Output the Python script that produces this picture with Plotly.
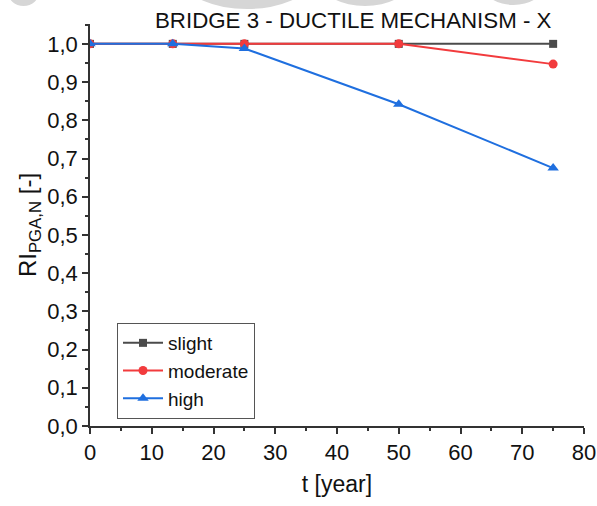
import plotly.graph_objects as go

# Exposure time [year]
t_slight = [0, 13.4, 25, 50, 75]
t_moderate = [0, 13.4, 25, 50, 75]
t_high = [0, 13.4, 25, 50, 75]

# Robustness index RI_PGA,N per damage state
ri_slight = [1.0, 1.0, 1.0, 1.0, 1.0]
ri_moderate = [1.0, 1.0, 1.0, 1.0, 0.947]
ri_high = [1.0, 1.0, 0.988, 0.842, 0.675]

y_ticks = [0.0, 0.1, 0.2, 0.3, 0.4, 0.5, 0.6, 0.7, 0.8, 0.9, 1.0]
x_ticks = [0, 10, 20, 30, 40, 50, 60, 70, 80]

W, H = 597, 506
L, R, T, B = 90, 13, 24, 80
PW, PH = W - L - R, H - T - B

FONT = "Liberation Sans, Arial, sans-serif"
GREY, RED, BLUE = "#4b4b4b", "#f23b3d", "#1f6fdf"


def px(x):
    return (x - L) / PW


def py(y):
    return (H - B - y) / PH


fig = go.Figure()
fig.add_trace(go.Scatter(
    x=t_slight, y=ri_slight, name="slight", mode="lines+markers",
    line=dict(color=GREY, width=2),
    marker=dict(symbol="square", size=8, color=GREY)))
fig.add_trace(go.Scatter(
    x=t_moderate, y=ri_moderate, name="moderate", mode="lines+markers",
    line=dict(color=RED, width=2),
    marker=dict(symbol="circle", size=9, color=RED)))
fig.add_trace(go.Scatter(
    x=t_high, y=ri_high, name="high", mode="lines+markers",
    line=dict(color=BLUE, width=2),
    marker=dict(symbol="triangle-up", size=10, color=BLUE)))

# light grey rounded shapes along the top edge
blobs = [(8, 39, -22, 6), (186, 308, -45, 9), (322, 408, -40, 6), (484, 543, -32, 5)]
shapes = []
for x0, x1, y0, y1 in blobs:
    shapes.append(dict(type="circle", xref="paper", yref="paper",
                       x0=px(x0), x1=px(x1), y0=py(y1), y1=py(y0),
                       fillcolor="#d6d6d6", line=dict(width=0), layer="below"))

fig.update_layout(
    width=W, height=H,
    margin=dict(l=L, r=R, t=T, b=B, autoexpand=False),
    paper_bgcolor="white", plot_bgcolor="white",
    separators=",.",
    font=dict(family=FONT, size=21, color="#111"),
    showlegend=True,
    legend=dict(x=px(117), y=py(323), xanchor="left", yanchor="top",
                bordercolor="#555", borderwidth=1, bgcolor="white",
                font=dict(size=19), tracegroupgap=0,
                itemwidth=40),
    shapes=shapes,
    annotations=[dict(text="BRIDGE 3 - DUCTILE MECHANISM - X",
                      xref="paper", yref="paper", x=px(353), y=py(20),
                      xanchor="center", yanchor="middle", showarrow=False,
                      font=dict(size=22.3, family=FONT, color="#111"))],
)

axis_common = dict(showline=True, linecolor="#333", linewidth=1.5,
                   showgrid=False, zeroline=False, ticks="outside",
                   ticklen=6, tickwidth=1.5, tickcolor="#333",
                   ticklabeloverflow="allow",
                   tickfont=dict(size=22, family=FONT, color="#111"))

fig.update_xaxes(range=[0, 80], tickvals=x_ticks,
                 title=dict(text="t [year]", font=dict(size=23), standoff=12),
                 minor=dict(ticks="outside", ticklen=3, dtick=5, tickcolor="#333"),
                 **axis_common)
fig.update_yaxes(range=[0, 1.052], tickvals=y_ticks, tickformat=".1f",
                 title=dict(text="RI<sub>PGA,N</sub> [-]", font=dict(size=24), standoff=4),
                 minor=dict(ticks="outside", ticklen=3, dtick=0.05, tickcolor="#333"),
                 **axis_common)

fig.write_html("out.html")
